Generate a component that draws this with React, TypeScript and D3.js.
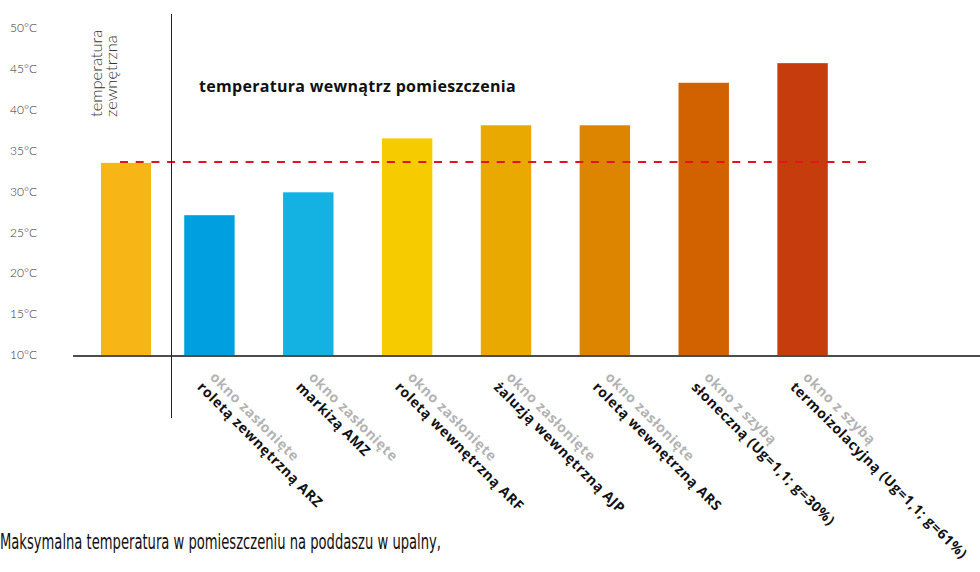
import React from 'react';
import * as d3 from 'd3';

// temperatura zewnętrzna (pierwszy słupek) i linia odniesienia
const outsideLabel = ['temperatura', 'zewnętrzna'];
const outsideTemp = 33.5;
const outsideColor = '#f7b516';

// okna: podpis szary + podpis czarny + wartość
const windowKeys = ['ARZ', 'AMZ', 'ARF', 'AJP', 'ARS', 'sol', 'termo'];
const windowPrefix = ['okno zasłonięte', 'okno zasłonięte', 'okno zasłonięte', 'okno zasłonięte', 'okno zasłonięte', 'okno z szybą', 'okno z szybą'];
const windowName = [
  'roletą zewnętrzną ARZ',
  'markizą AMZ',
  'roletą wewnętrzną ARF',
  'żaluzją wewnętrzną AJP',
  'roletą wewnętrzną ARS',
  'słoneczną (Ug=1,1; g=30%)',
  'termoizolacyjną (Ug=1,1; g=61%)',
];
const windowTemp = [27.1, 29.9, 36.5, 38.1, 38.1, 43.3, 45.7];
const windowColors = ['#009fdf', '#14b2e2', '#f6cb00', '#e9a900', '#dd8500', '#d26100', '#c73c0d'];

const yTicks = [10, 15, 20, 25, 30, 35, 40, 45, 50];
const title = 'temperatura wewnątrz pomieszczenia';
const footer = 'Maksymalna temperatura w pomieszczeniu na poddaszu w upalny,';

const W = 980, H = 572;

export default function App() {
  const y = d3.scaleLinear().domain([10, 50]).range([355, 28]);
  const xOut = d3.scaleBand().domain(['outside']).range([101, 151]);
  const xWin = d3.scaleBand().domain(windowKeys).range([160, 852]).paddingInner(0.49).paddingOuter(0.245);
  const bw = xWin.bandwidth();

  const labelFont = '"Open Sans", "DejaVu Sans", sans-serif';
  const lightFont = '"Lato", "DejaVu Sans", sans-serif';

  return (
    <svg width={W} height={H} style={{ position: 'absolute', left: 0, top: 0, background: '#fff' }}>
      {/* y tick labels */}
      {yTicks.map(t => (
        <text key={t} x={10} y={y(t)} dy="0.35em" fontSize={12} fill="#333"
          fontFamily={lightFont} fontWeight={300}>{t}°C</text>
      ))}

      {/* outside bar */}
      <rect x={xOut('outside')} y={y(outsideTemp)} width={xOut.bandwidth()} height={y(10) - y(outsideTemp)} fill={outsideColor} />
      {outsideLabel.map((s, i) => (
        <text key={s} transform={`translate(${102 + i * 14.5},117) rotate(-90)`} fontSize={16.5} fill="#333"
          fontFamily={lightFont} fontWeight={300}>{s}</text>
      ))}

      {/* window bars */}
      {windowKeys.map((k, i) => (
        <rect key={k} x={xWin(k)} y={y(windowTemp[i])} width={bw} height={y(10) - y(windowTemp[i])} fill={windowColors[i]} />
      ))}

      {/* reference line */}
      <line x1={120} x2={868} y1={y(outsideTemp) - 1} y2={y(outsideTemp) - 1} stroke="#e5141b" strokeWidth={2} strokeDasharray="8 7.7" />

      {/* axes */}
      <line x1={73} x2={980} y1={356} y2={356} stroke="#111" strokeWidth={1.5} />
      <line x1={171.5} x2={171.5} y1={14} y2={418} stroke="#222" strokeWidth={1} />

      {/* title */}
      <text x={199} y={92} fontSize={16} letterSpacing={0.3} fontWeight={700} fontFamily={labelFont} fill="#111">{title}</text>

      {/* rotated category labels */}
      {windowKeys.map((k, i) => {
        const cx = (xWin(k) as number) + bw / 2 + 4;
        return (
          <g key={k} transform={`translate(${cx},371) rotate(45)`} fontFamily={labelFont} fontWeight={700} fontSize={14} letterSpacing={0.6}>
            <text x={2} y={8} fill="#b3b3b3">{windowPrefix[i]}</text>
            <text x={0} y={24} fill="#111">{windowName[i]}</text>
          </g>
        );
      })}

      {/* footer */}
      <text x={0} y={549} fontSize={21} textLength={441} lengthAdjust="spacingAndGlyphs"
        fontFamily='"Liberation Sans Narrow", "DejaVu Sans Condensed", "Liberation Sans", sans-serif' fill="#111">{footer}</text>
    </svg>
  );
}
